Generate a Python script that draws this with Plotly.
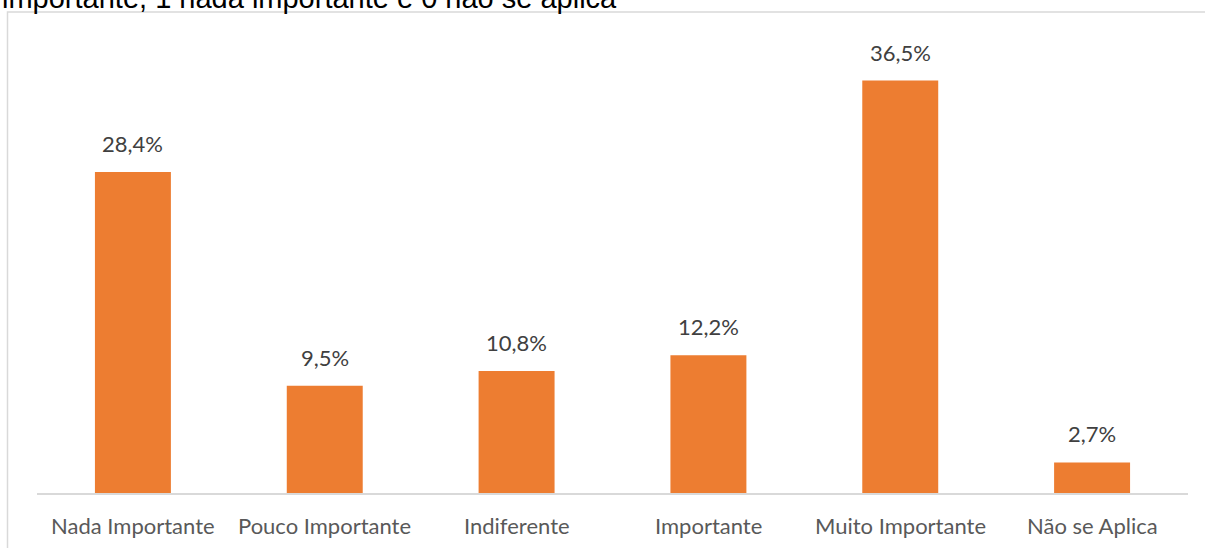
import plotly.graph_objects as go

categories = ["Nada Importante", "Pouco Importante", "Indiferente", "Importante", "Muito Importante", "Não se Aplica"]
values = [28.4, 9.5, 10.8, 12.2, 36.5, 2.7]
title_text = "importante, 1 nada importante e 0 não se aplica"

W, H = 1205, 548
ML, MR, MT, MB = 37, 17, 41, 55
ph = H - MT - MB
pw = W - ML - MR

fig = go.Figure()
fig.add_trace(go.Bar(
    x=categories, y=values,
    marker=dict(color="#ED7D31", line=dict(width=0)),
    hoverinfo="skip",
))

for c, v in zip(categories, values):
    fig.add_annotation(
        x=c, y=v, xref="x", yref="y",
        text=f"{v:.1f}%".replace(".", ","),
        showarrow=False, yanchor="bottom", yshift=13,
        font=dict(family="Lato", size=22, color="#404040"),
    )
    fig.add_annotation(
        x=c, y=0, xref="x", yref="paper",
        text=c, showarrow=False, yanchor="top", yshift=-17,
        font=dict(family="Lato", size=22, color="#595959"),
    )

# page title text (cropped at top)
fig.add_annotation(
    x=(0 - ML) / pw, y=(H - MB + 2.5) / ph, xref="paper", yref="paper",
    xanchor="left", yanchor="middle", showarrow=False,
    text=title_text,
    font=dict(family="Liberation Sans, Arial", size=29, color="#000000"),
)

# chart area frame
fig.add_shape(
    type="rect", xref="paper", yref="paper",
    x0=(7.5 - ML) / pw, x1=(1260 - ML) / pw,
    y0=(H - MB - 600) / ph, y1=(H - MB - 12) / ph,
    line=dict(color="#D9D9D9", width=1.5), fillcolor="rgba(0,0,0,0)",
    layer="below",
)

fig.update_layout(
    width=W, height=H,
    margin=dict(l=ML, r=MR, t=MT, b=MB),
    paper_bgcolor="white", plot_bgcolor="white",
    bargap=0.604,
    showlegend=False,
    xaxis=dict(
        showline=True, linecolor="#D9D9D9", linewidth=1.5,
        ticks="", showgrid=False, showticklabels=False,
    ),
    yaxis=dict(range=[0, 40], visible=False, showgrid=False, zeroline=False),
)

fig.write_html(
    "out.html",
    config={"displayModeBar": False},
    post_script="document.body.style.margin='0';document.body.style.overflow='hidden';",
)
